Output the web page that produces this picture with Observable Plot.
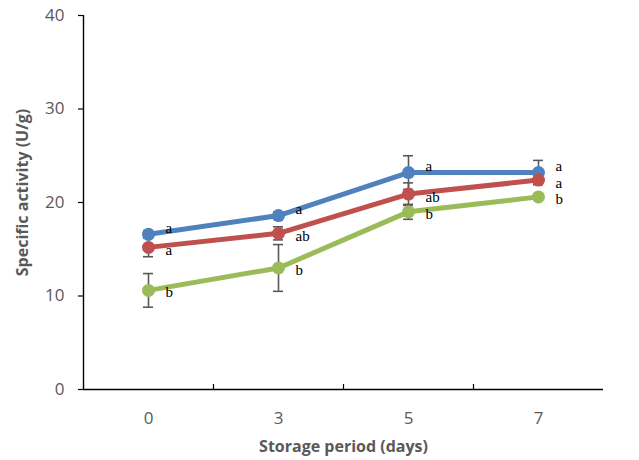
<!DOCTYPE html>
<html>
<head>
<meta charset="utf-8">
<script src="https://cdn.jsdelivr.net/npm/d3@7"></script>
<script src="https://cdn.jsdelivr.net/npm/@observablehq/plot@0.6"></script>
<style>
  html, body { margin: 0; padding: 0; background: #fff; }
  #chart { width: 639px; height: 460px; }
</style>
</head>
<body>
<div id="chart"></div>
<script>
// ---- data ----
const days = ["0", "3", "5", "7"];
const seriesNames = ["Treatment 1", "Treatment 2", "Treatment 3"];
const seriesColors = ["#4F81BD", "#C0504D", "#9BBB59"];
const valuesT1 = [16.6, 18.6, 23.2, 23.2];
const valuesT2 = [15.2, 16.7, 20.9, 22.4];
const valuesT3 = [10.6, 13.0, 19.0, 20.6];
const errorT1 = [0.4, 0.4, 1.8, 1.3];
const errorT2 = [1.0, 0.7, 1.2, 0.3];
const errorT3 = [1.8, 2.5, 0.8, 0.3];
const lettersT1 = ["a", "a", "a", "a"];
const lettersT2 = ["a", "ab", "ab", "a"];
const lettersT3 = ["b", "b", "b", "b"];
const yTicks = [0, 10, 20, 30, 40];
const xTitle = "Storage period (days)";
const yTitle = "Specific activity (U/g)";

// ---- layout ----
const W = 639, H = 460;
const mL = 83, mR = 36, mT = 15, mB = 71;
const yMax = 40;
const plotH = H - mT - mB;
const unitsPerPx = yMax / plotH;

const allValues = [valuesT1, valuesT2, valuesT3];
const allErrors = [errorT1, errorT2, errorT3];
const allLetters = [lettersT1, lettersT2, lettersT3];
const letterDy = [-6, 3, 2];

const rows = [];
seriesNames.forEach((s, k) => {
  days.forEach((d, i) => {
    rows.push({
      series: s, k, i, day: d,
      v: allValues[k][i], e: allErrors[k][i], letter: allLetters[k][i]
    });
  });
});
const dayIdx = days.map((d, i) => i);
const boundaries = days.slice(1).map((d, i) => i + 0.5);
const capHalf = 5 / ((W - mL - mR) / days.length);

const font = "'Open Sans', 'Liberation Sans', sans-serif";
const grey = "#595959";

const letterMarks = seriesNames.map((s, k) =>
  Plot.text(rows.filter(r => r.k === k), {
    x: "i", y: "v", text: "letter", textAnchor: "start", lineAnchor: "middle",
    dx: 17, dy: letterDy[k],
    fontFamily: "'Liberation Serif', 'Times New Roman', serif", fontSize: 15, fill: "black"
  })
);

const chart = Plot.plot({
  width: W, height: H,
  marginLeft: mL, marginRight: mR, marginTop: mT, marginBottom: mB,
  style: { fontFamily: font, background: "#fff", overflow: "visible" },
  x: { type: "linear", domain: [-0.5, days.length - 0.5], axis: null },
  y: { domain: [0, yMax], axis: null },
  color: { domain: seriesNames, range: seriesColors },
  marks: [
    // axis lines
    Plot.ruleX([-0.5], { stroke: "black", strokeWidth: 1.4 }),
    Plot.ruleY([0], { stroke: "black", strokeWidth: 1.4 }),
    // y ticks (outward)
    Plot.axisY({ ticks: yTicks, tickSize: 5, tickFormat: () => "", stroke: "black", strokeWidth: 1.2, label: null }),
    // x ticks between categories (inward)
    Plot.ruleX(boundaries, { y1: 0, y2: 5 * unitsPerPx, stroke: "black", strokeWidth: 1.2 }),
    // y tick labels
    Plot.text(yTicks, { y: d => d, text: d => String(d), frameAnchor: "left", textAnchor: "end", lineAnchor: "middle", dx: -19, fill: grey, fontSize: 17 }),
    // x tick labels
    Plot.text(dayIdx, { x: d => d, text: d => days[d], frameAnchor: "bottom", textAnchor: "middle", lineAnchor: "middle", dy: 29, fill: grey, fontSize: 17 }),
    // axis titles
    Plot.text([xTitle], { frameAnchor: "bottom", textAnchor: "middle", lineAnchor: "middle", dy: 57, fill: grey, fontSize: 16, fontWeight: "bold" }),
    Plot.text([yTitle], { frameAnchor: "left", textAnchor: "middle", lineAnchor: "middle", rotate: -90, dx: -61, dy: -10, fill: grey, fontSize: 16, fontWeight: "bold" }),
    // error bars
    Plot.ruleX(rows, { x: "i", y1: d => d.v - d.e, y2: d => d.v + d.e, stroke: grey, strokeWidth: 1.6 }),
    Plot.ruleY(rows, { y: d => d.v + d.e, x1: d => d.i - capHalf, x2: d => d.i + capHalf, stroke: grey, strokeWidth: 1.6 }),
    Plot.ruleY(rows, { y: d => d.v - d.e, x1: d => d.i - capHalf, x2: d => d.i + capHalf, stroke: grey, strokeWidth: 1.6 }),
    // lines and markers
    Plot.line(rows, { x: "i", y: "v", z: "series", stroke: "series", strokeWidth: 5, strokeLinejoin: "round", strokeLinecap: "round" }),
    Plot.dot(rows, { x: "i", y: "v", fill: "series", r: 6.5, stroke: "none" }),
    // significance letters
    ...letterMarks
  ]
});

document.getElementById("chart").appendChild(chart);
</script>
</body>
</html>
